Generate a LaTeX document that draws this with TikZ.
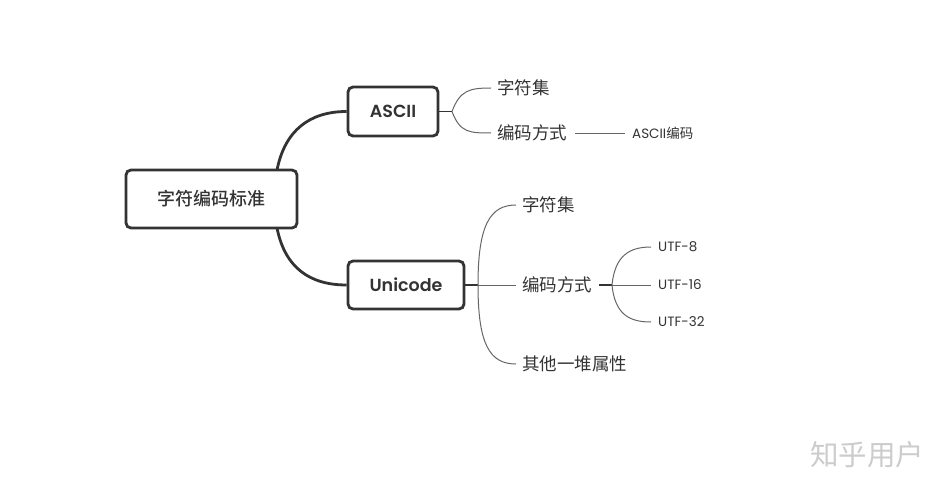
\documentclass[tikz,border=0pt]{standalone}
\usepackage{fontspec}
\setmainfont{Poppins}[BoldFont={Poppins SemiBold}]
\newfontfamily\cjk{Noto Sans CJK SC}[BoldFont={Noto Sans CJK SC Medium}]
\definecolor{boxline}{HTML}{333333}
\definecolor{thinline}{HTML}{666666}
\definecolor{txt}{HTML}{333333}
\definecolor{wm}{HTML}{CCCCCC}
\begin{document}
\begin{tikzpicture}[x=1pt,y=-1pt,
  mainbox/.style={draw=boxline,line width=2.8pt,rounded corners=5pt,fill=white,text=txt,align=center,inner sep=0pt},
  thick link/.style={draw=boxline,line width=2.8pt},
  thin link/.style={draw=thinline,line width=1pt},
  leaf/.style={anchor=west,text=txt,font=\cjk\fontsize{17.5}{20}\selectfont,inner sep=0pt},
  small leaf/.style={anchor=west,text=txt,font=\fontsize{13.5}{15}\selectfont,inner sep=0pt}]
\useasboundingbox (0,0) rectangle (951,487);
\fill[white] (0,0) rectangle (951,487);

% main nodes
\node[mainbox,minimum width=171pt,minimum height=58pt,font=\cjk\bfseries\fontsize{18}{21}\selectfont] (root) at (211.5,199) {字符编码标准};
\node[mainbox,minimum width=90pt,minimum height=49pt,font=\bfseries\fontsize{17.5}{20}\selectfont] (ascii) at (393,111.5) {ASCII};
\node[mainbox,minimum width=116pt,minimum height=48pt,font=\bfseries\fontsize{17.5}{20}\selectfont] (uni) at (406,285) {Unicode};

\coordinate (rtop) at (277,170);
\coordinate (rbot) at (277,228);
\draw[thick link] (rtop) .. controls (285,130) and (310,111.5) .. (ascii.west);
\draw[thick link] (rbot) .. controls (285,268) and (310,285) .. (uni.west);

% ASCII children
\node[leaf] (a1) at (497,88) {字符集};
\node[leaf] (a2) at (497,133) {编码方式};
\node[small leaf] (a3) at (632,133) {ASCII{\cjk 编码}};
\coordinate (ab) at (452,111.5);
\draw[boxline,line width=1.5pt] (ascii.east) -- (ab);
\draw[thin link] (ab) .. controls (460,90) and (470,88) .. ([xshift=-6pt]a1.west);
\draw[thin link] (ab) .. controls (460,133) and (470,133) .. ([xshift=-6pt]a2.west);
\draw[thin link] ([xshift=8pt]a2.east) -- ([xshift=-7pt]a3.west);

% Unicode children
\node[leaf] (u1) at (522,205) {字符集};
\node[leaf] (u2) at (522,285) {编码方式};
\node[leaf] (u3) at (522,364) {其他一堆属性};
\coordinate (ub) at (478,285);
\draw[boxline,line width=1.5pt] (uni.east) -- (ub);
\draw[thin link] (ub) .. controls (478,225) and (490,205) .. ([xshift=-6pt]u1.west);
\draw[thin link] (ub) -- ([xshift=-6pt]u2.west);
\draw[thin link] (ub) .. controls (478,345) and (490,364) .. ([xshift=-6pt]u3.west);

% UTF children
\node[small leaf] (t1) at (658,247) {UTF-8};
\node[small leaf] (t2) at (658,285) {UTF-16};
\node[small leaf] (t3) at (658,322) {UTF-32};
\coordinate (tb) at (612,285);
\draw[boxline,line width=1.5pt] ([xshift=7pt]u2.east) -- (tb);
\draw[thin link] (tb) .. controls (615,255) and (630,247) .. ([xshift=-7pt]t1.west);
\draw[thin link] (tb) -- ([xshift=-7pt]t2.west);
\draw[thin link] (tb) .. controls (615,315) and (630,322) .. ([xshift=-7pt]t3.west);

% watermark
\node[text=wm,font=\cjk\fontsize{28.5}{30}\selectfont,inner sep=0pt] (wmk) at (867,455) {知乎用户};
\end{tikzpicture}
\end{document}
